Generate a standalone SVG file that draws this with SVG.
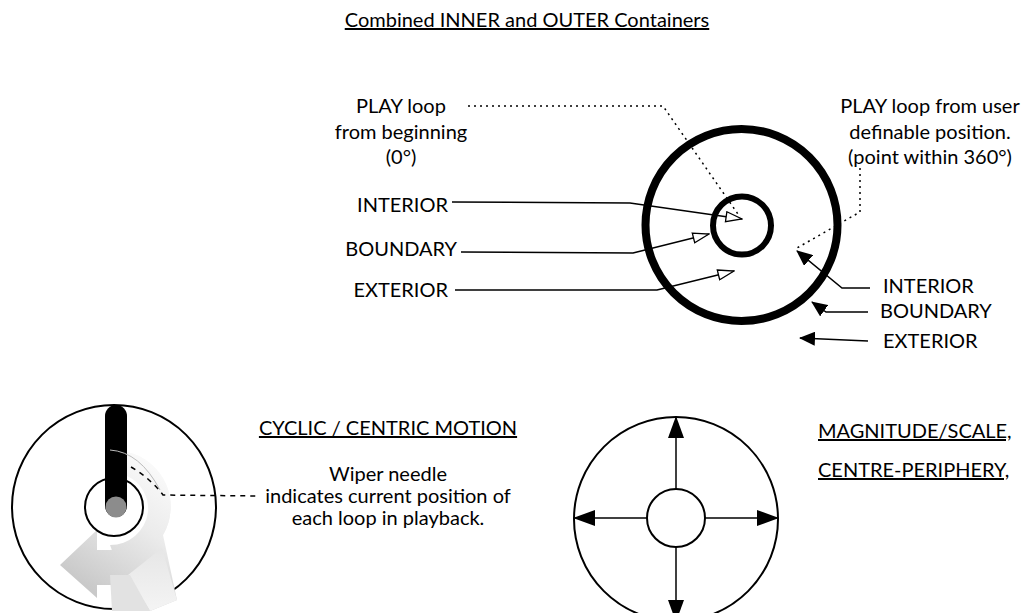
<svg xmlns="http://www.w3.org/2000/svg" width="1021" height="613" viewBox="0 0 1021 613">
  <style>
    text { font-family: "Lato", "Liberation Sans", sans-serif; font-size: 20px; fill: #000; }
    .mid { text-anchor: middle; }
    .end { text-anchor: end; }
    .u { text-decoration: underline; }
    .ring { fill: none; stroke: #000; }
    .lead { fill: none; stroke: #000; stroke-width: 1.5; }
    .dot { fill: none; stroke: #000; stroke-width: 1.5; stroke-dasharray: 2 4; }
    .dash { fill: none; stroke: #000; stroke-width: 1.5; stroke-dasharray: 5 5; }
  </style>
  <defs>
    <marker id="open" markerWidth="18" markerHeight="12" refX="17" refY="6" orient="auto" markerUnits="userSpaceOnUse">
      <path d="M1,1 L17,6 L1,11 Z" fill="#fff" stroke="#000" stroke-width="1.3"/>
    </marker>
    <marker id="solid" markerWidth="16" markerHeight="14" refX="15" refY="7" orient="auto" markerUnits="userSpaceOnUse">
      <path d="M0,0 L16,7 L0,14 Z" fill="#000"/>
    </marker>
    <marker id="big" markerWidth="22" markerHeight="16" refX="21" refY="8" orient="auto" markerUnits="userSpaceOnUse">
      <path d="M0,0 L22,8 L0,16 Z" fill="#000"/>
    </marker>
    <linearGradient id="sweep" x1="150" y1="455" x2="70" y2="575" gradientUnits="userSpaceOnUse">
      <stop offset="0" stop-color="#fbfbfb"/>
      <stop offset="0.45" stop-color="#ebebeb"/>
      <stop offset="1" stop-color="#c9c9c9"/>
    </linearGradient>
    <linearGradient id="streak" x1="0" y1="0" x2="0" y2="1">
      <stop offset="0" stop-color="#e6e6e6"/>
      <stop offset="1" stop-color="#f4f4f4"/>
    </linearGradient>
  </defs>

  <text id="title" class="mid u" x="527" y="27">Combined INNER and OUTER Containers</text>

  <!-- inner and outer containers -->
  <g id="outer-container"><circle class="ring" cx="741.5" cy="225" r="96" stroke-width="8"/></g>
  <g id="inner-container"><circle class="ring" cx="742" cy="225.5" r="29" stroke-width="6"/></g>

  <g id="play-start">
    <text class="mid" x="401" y="113">PLAY loop</text>
    <text class="mid" x="401" y="139">from beginning</text>
    <text class="mid" x="401" y="164">(0°)</text>
  </g>
  <g id="play-user">
    <text class="mid" x="930" y="113">PLAY loop from user</text>
    <text class="mid" x="930" y="139">definable position.</text>
    <text class="mid" x="930" y="164">(point within 360°)</text>
  </g>

  <g id="label-interior-l"><text class="end" x="448" y="212">INTERIOR</text></g>
  <g id="label-boundary-l"><text class="end" x="457" y="256">BOUNDARY</text></g>
  <g id="label-exterior-l"><text class="end" x="448" y="297">EXTERIOR</text></g>
  <g id="label-interior-r"><text x="883" y="293">INTERIOR</text></g>
  <g id="label-boundary-r"><text x="880" y="318">BOUNDARY</text></g>
  <g id="label-exterior-r"><text x="883" y="348">EXTERIOR</text></g>

  <!-- lower left: wiper dial with its sweep trail -->
  <g id="wiper-dial">
    <circle class="ring" cx="114" cy="507" r="102" stroke-width="2"/>
    <path d="M127,452 A56,56 0 0 1 163,535 L160,545 L110,550 L97,550 L97,530 L60,565 L97,598 L97,585 L125,585 Q150,575 163,535 Z" fill="url(#sweep)"/>
    <path d="M127,452 A56,56 0 0 1 163,535 L177,600 L150,611 L125,585 L110,545 A38,38 0 0 0 148,512 A36,36 0 0 0 127,476 Z" fill="url(#sweep)"/>
    <path d="M128,575 L150,611 L177,600 L162,548 Z" fill="url(#streak)"/>
    <path d="M110,575 L112,611 L150,611 L130,575 Z" fill="#e2e2e2"/>
    <circle class="ring" cx="114" cy="507" r="29" stroke-width="2"/>
    <rect x="105" y="405" width="22" height="112" rx="11" fill="#000"/>
    <circle cx="116" cy="507" r="10.5" fill="#8c8c8c"/>
  </g>
  <g id="cyclic-text">
    <text class="mid u" x="388" y="435">CYCLIC / CENTRIC MOTION</text>
    <text class="mid" x="388" y="481">Wiper needle</text>
    <text class="mid" x="388" y="503">indicates current position of</text>
    <text class="mid" x="388" y="525">each loop in playback.</text>
  </g>

  <!-- lower right: magnitude dial -->
  <g id="scale-dial">
    <circle class="ring" cx="676" cy="519" r="102" stroke-width="2"/>
    <circle class="ring" cx="676" cy="518" r="29" stroke-width="2"/>
  </g>
  <g id="scale-text">
    <text class="u" x="818" y="438">MAGNITUDE/SCALE,</text>
    <text class="u" x="818" y="477">CENTRE-PERIPHERY,</text>
  </g>

  <g id="connectors">
    <polyline class="dot" points="468,106 663,106 740,217"/>
    <polyline class="dot" points="860,168 860,212 797,248"/>
    <polyline class="lead" points="452,202 630,203 742,219" marker-end="url(#open)"/>
    <polyline class="lead" points="461,252 633,253 709,234" marker-end="url(#open)"/>
    <polyline class="lead" points="455,290 657,290 734,271" marker-end="url(#open)"/>
    <polyline class="lead" points="870,288 842,288 797,251" marker-end="url(#solid)"/>
    <polyline class="lead" points="868,312 826,312 812,302" marker-end="url(#solid)"/>
    <polyline class="lead" points="868,341 800,338" marker-end="url(#solid)"/>
    <path d="M110,450 Q140,452 160,490" fill="none" stroke="#bbb" stroke-width="1"/>
    <path class="dash" d="M131,467 Q150,478 163,495 L258,496"/>
    <line class="lead" x1="676" y1="489" x2="676" y2="417" stroke-width="2" marker-end="url(#big)"/>
    <line class="lead" x1="676" y1="547" x2="676" y2="621" stroke-width="2" marker-end="url(#big)"/>
    <line class="lead" x1="647" y1="518" x2="574" y2="518" stroke-width="2" marker-end="url(#big)"/>
    <line class="lead" x1="705" y1="518" x2="778" y2="518" stroke-width="2" marker-end="url(#big)"/>
  </g>
</svg>
